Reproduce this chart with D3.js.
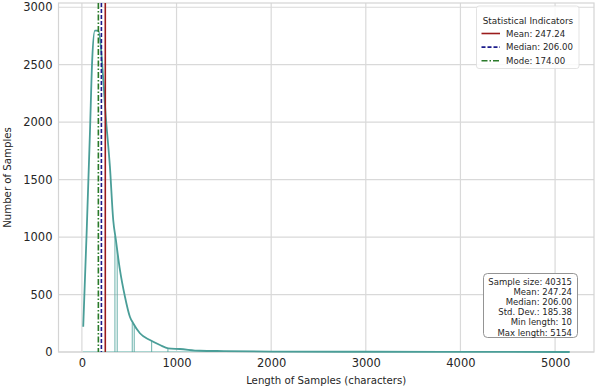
<!DOCTYPE html>
<html>
<head>
<meta charset="utf-8">
<script src="https://cdn.jsdelivr.net/npm/d3@7"></script>
<style>
  body { margin: 0; background: #fff; }
  svg { font-family: 'DejaVu Sans', sans-serif; }
</style>
</head>
<body>
<svg id="chart" width="596" height="388"></svg>
<script>
// curve points (length, count)
const curveX = [14, 50, 85, 109, 137, 172, 261, 296, 331, 359, 402, 455, 507, 542, 613, 719, 825, 912, 1036, 1247, 1500, 2000, 3000, 4000, 5154];
const curveY = [220, 1036, 1907, 2542, 2797, 2797, 1959, 1613, 1149, 975, 714, 481, 307, 250, 163, 104, 61, 32, 26, 11, 8, 4, 2, 1, 0];

// thin bar edges that show through the white histogram outlines
const edgeX = [349, 373, 532, 553, 737, 909];
const edgeY = [1010, 900, 255, 240, 95, 35];

const xTicks = [0, 1000, 2000, 3000, 4000, 5000];
const yTicks = [0, 500, 1000, 1500, 2000, 2500, 3000];

const minLen = 10, maxLen = 5154;
const meanVal = 247.24, medianVal = 206.0, modeVal = 174.0;

const statLines = ['Sample size: 40315', 'Mean: 247.24', 'Median: 206.00', 'Std. Dev.: 185.38', 'Min length: 10', 'Max length: 5154'];
const legendItems = [
  { label: 'Mean: 247.24', color: '#9b1c1c', dash: null },
  { label: 'Median: 206.00', color: '#1c1c8c', dash: '4,2' },
  { label: 'Mode: 174.00', color: '#2a7a2a', dash: '6,2,1.5,2' },
];

const plotL = 58.5, plotR = 594, plotT = 3, plotB = 352;
const pad = (maxLen - minLen) * 0.05;

const x = d3.scaleLinear().domain([minLen - pad, maxLen + pad]).range([plotL, plotR]);
const y = d3.scaleLinear().domain([0, 3037]).range([plotB, plotT]);

const svg = d3.select('#chart');

// grid
svg.append('g').selectAll('line').data(xTicks).enter().append('line')
  .attr('x1', d => x(d)).attr('x2', d => x(d))
  .attr('y1', plotT).attr('y2', plotB)
  .attr('stroke', '#d9d9d9').attr('stroke-width', 1.2);
svg.append('g').selectAll('line').data(yTicks).enter().append('line')
  .attr('x1', plotL).attr('x2', plotR)
  .attr('y1', d => y(d)).attr('y2', d => y(d))
  .attr('stroke', '#d9d9d9').attr('stroke-width', 1.2);

// frame
svg.append('rect')
  .attr('x', plotL).attr('y', plotT)
  .attr('width', plotR - plotL).attr('height', plotB - plotT)
  .attr('fill', 'none').attr('stroke', '#d4d4d4').attr('stroke-width', 1.2);

// faint baseline of the bars
svg.append('line')
  .attr('x1', x(minLen)).attr('x2', x(maxLen))
  .attr('y1', y(0) - 0.5).attr('y2', y(0) - 0.5)
  .attr('stroke', '#a9d4d0').attr('stroke-width', 1);

// bar edges
svg.append('g').selectAll('line').data(edgeX).enter().append('line')
  .attr('x1', d => x(d)).attr('x2', d => x(d))
  .attr('y1', (d, i) => y(edgeY[i])).attr('y2', y(0))
  .attr('stroke', '#5aa8a2').attr('stroke-width', 0.9);

// curve
const pts = curveX.map((d, i) => [d, curveY[i]]);
svg.append('path')
  .datum(pts)
  .attr('fill', 'none')
  .attr('stroke', '#4a9e98')
  .attr('stroke-width', 1.8)
  .attr('stroke-linejoin', 'round')
  .attr('d', d3.line().curve(d3.curveMonotoneX).x(d => x(d[0])).y(d => y(d[1])));

// indicator lines
const indicators = [
  { v: modeVal, item: legendItems[2] },
  { v: medianVal, item: legendItems[1] },
  { v: meanVal, item: legendItems[0] },
];
svg.append('g').selectAll('line').data(indicators).enter().append('line')
  .attr('x1', d => x(d.v)).attr('x2', d => x(d.v))
  .attr('y1', plotT).attr('y2', plotB)
  .attr('stroke', d => d.item.color)
  .attr('stroke-width', 1.6)
  .attr('stroke-dasharray', d => d.item.dash);

// axes tick labels
const xAxis = d3.axisBottom(x).tickValues(xTicks).tickSize(0).tickPadding(7).tickFormat(d3.format('d'));
const gx = svg.append('g').attr('transform', `translate(0,${plotB})`).call(xAxis);
gx.select('.domain').remove();
gx.selectAll('text').attr('font-size', 11.5).attr('fill', '#262626').attr('font-family', 'DejaVu Sans');

const yAxis = d3.axisLeft(y).tickValues(yTicks).tickSize(0).tickPadding(6).tickFormat(d3.format('d'));
const gy = svg.append('g').attr('transform', `translate(${plotL},0)`).call(yAxis);
gy.select('.domain').remove();
gy.selectAll('text').attr('font-size', 11.5).attr('fill', '#262626').attr('font-family', 'DejaVu Sans');

svg.append('text')
  .attr('x', (plotL + plotR) / 2).attr('y', 384)
  .attr('text-anchor', 'middle').attr('font-size', 10.2).attr('fill', '#262626')
  .text('Length of Samples (characters)');

svg.append('text')
  .attr('transform', `translate(11,${(plotT + plotB) / 2}) rotate(-90)`)
  .attr('text-anchor', 'middle').attr('font-size', 10.2).attr('fill', '#262626')
  .text('Number of Samples');

// legend
const lg = svg.append('g');
lg.append('rect')
  .attr('x', 476.5).attr('y', 6).attr('width', 102.5).attr('height', 62.5)
  .attr('rx', 2.5).attr('fill', 'rgba(255,255,255,0.85)')
  .attr('stroke', '#dcdcdc').attr('stroke-width', 0.8);
lg.append('text')
  .attr('x', 528).attr('y', 23.5).attr('text-anchor', 'middle')
  .attr('font-size', 8.9).attr('fill', '#262626')
  .text('Statistical Indicators');
const li = lg.selectAll('g.item').data(legendItems).enter().append('g')
  .attr('transform', (d, i) => `translate(0,${33.5 + i * 13.6})`);
li.append('line')
  .attr('x1', 481.5).attr('x2', 500).attr('y1', 0).attr('y2', 0)
  .attr('stroke', d => d.color).attr('stroke-width', 1.6)
  .attr('stroke-dasharray', d => d.dash);
li.append('text')
  .attr('x', 506).attr('y', 3).attr('font-size', 8.6).attr('fill', '#262626')
  .text(d => d.label);

// stats box
const sb = svg.append('g');
sb.append('rect')
  .attr('x', 483.5).attr('y', 273.5).attr('width', 94).attr('height', 64)
  .attr('rx', 4).attr('fill', '#fff')
  .attr('stroke', '#888').attr('stroke-width', 0.9);
sb.selectAll('text').data(statLines).enter().append('text')
  .attr('x', 572).attr('y', (d, i) => 284.5 + i * 10.2)
  .attr('text-anchor', 'end').attr('font-size', 8.5).attr('fill', '#262626')
  .text(d => d);
</script>
</body>
</html>
